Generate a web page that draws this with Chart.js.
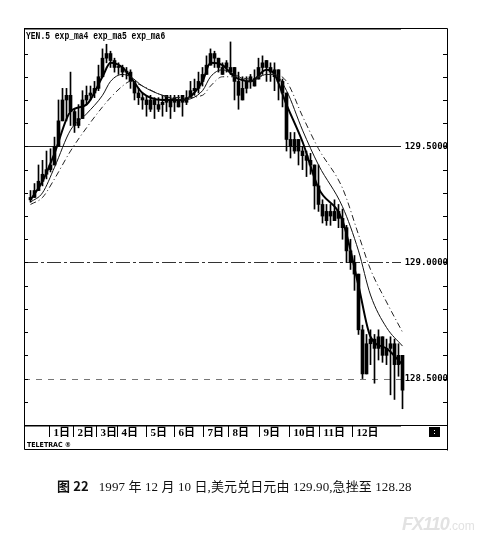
<!DOCTYPE html>
<html><head><meta charset="utf-8">
<script src="https://cdn.jsdelivr.net/npm/chart.js@4.4.0/dist/chart.umd.min.js"></script>
<style>
html,body{margin:0;padding:0;background:#fff;}
#wrap{position:relative;width:484px;height:544px;overflow:hidden;}
canvas{position:absolute;left:0;top:0;}
#cap{position:absolute;left:57px;top:478px;font-size:13px;line-height:16px;letter-spacing:0.1px;white-space:nowrap;color:#111;font-family:"Liberation Serif","Noto Sans CJK SC",serif;}
#cap b{font-family:"Noto Sans CJK SC",sans-serif;font-weight:bold;}
#wm{position:absolute;left:402px;top:514px;color:#e2e2e2;font-family:"Liberation Sans",sans-serif;white-space:nowrap;}
#wm b{font-size:18px;font-style:italic;letter-spacing:-1px;}
#wm span{font-size:12px;}
</style></head>
<body><div id="wrap"><canvas id="c" width="484" height="544"></canvas>
<div id="cap"><b>图 22</b>&nbsp;&nbsp;&nbsp;1997 年 12 月 10 日,美元兑日元由 129.90,急挫至 128.28</div>
<div id="wm"><b>FX110</b><span>.com</span></div>
</div>
<script>
// ---- data (USD/JPY 5-min bars, 10 Dec 1997) ----
const OPEN = [129.27,129.28,129.31,129.35,129.38,129.40,129.42,129.50,129.61,129.70,
129.72,129.65,129.59,129.62,129.70,129.72,129.73,129.75,129.80,129.88,
129.90,129.87,129.84,129.84,129.82,129.82,129.78,129.73,129.71,129.70,
129.66,129.70,129.66,129.68,129.72,129.67,129.71,129.67,129.72,129.69,
129.71,129.74,129.75,129.78,129.81,129.85,129.90,129.88,129.81,129.86,
129.82,129.84,129.78,129.70,129.75,129.80,129.76,129.79,129.84,129.87,
129.84,129.80,129.83,129.78,129.73,129.53,129.48,129.53,129.48,129.46,
129.44,129.42,129.33,129.25,129.18,129.22,129.18,129.22,129.19,129.15,
129.05,129.00,128.95,128.71,128.52,128.65,128.67,128.63,128.68,128.60,
128.63,128.65,128.56,128.60];
const HIGH = [129.31,129.34,129.42,129.44,129.48,129.49,129.54,129.70,129.75,129.75,
129.82,129.66,129.68,129.74,129.76,129.76,129.78,129.85,129.92,129.94,
129.91,129.88,129.86,129.85,129.84,129.83,129.78,129.75,129.73,129.72,
129.72,129.71,129.71,129.72,129.72,129.72,129.72,129.72,129.72,129.74,
129.78,129.79,129.82,129.84,129.89,129.92,129.91,129.88,129.86,129.87,
129.95,129.84,129.82,129.80,129.80,129.81,129.83,129.88,129.89,129.87,
129.86,129.86,129.83,129.79,129.73,129.56,129.56,129.53,129.50,129.48,
129.47,129.42,129.42,129.27,129.25,129.25,129.27,129.25,129.23,129.16,
129.10,129.03,128.95,128.73,128.69,128.71,128.69,128.71,128.68,128.67,
128.68,128.67,128.65,128.60];
const LOW = [129.26,129.28,129.31,129.33,129.36,129.39,129.42,129.50,129.61,129.61,
129.59,129.56,129.58,129.62,129.68,129.70,129.71,129.74,129.80,129.86,
129.84,129.82,129.81,129.80,129.79,129.75,129.70,129.68,129.66,129.63,
129.65,129.62,129.65,129.63,129.65,129.62,129.65,129.67,129.63,129.68,
129.71,129.72,129.73,129.76,129.81,129.85,129.84,129.82,129.81,129.82,
129.81,129.70,129.66,129.70,129.73,129.75,129.76,129.79,129.81,129.78,
129.78,129.74,129.70,129.67,129.48,129.45,129.47,129.42,129.40,129.37,
129.38,129.23,129.22,129.17,129.16,129.16,129.18,129.15,129.10,129.00,
128.97,128.88,128.69,128.50,128.52,128.56,128.48,128.58,128.57,128.56,
128.43,128.41,128.51,128.37];
const CLOSE = [129.28,129.31,129.35,129.38,129.40,129.42,129.50,129.61,129.70,129.72,
129.65,129.59,129.62,129.70,129.72,129.73,129.75,129.80,129.88,129.90,
129.87,129.84,129.84,129.82,129.82,129.78,129.73,129.71,129.70,129.68,
129.70,129.68,129.68,129.69,129.69,129.70,129.69,129.70,129.69,129.71,
129.74,129.75,129.78,129.81,129.85,129.90,129.88,129.84,129.84,129.84,
129.84,129.78,129.72,129.75,129.78,129.78,129.79,129.84,129.86,129.84,
129.82,129.83,129.78,129.73,129.53,129.50,129.53,129.48,129.46,129.44,
129.42,129.33,129.25,129.20,129.22,129.20,129.22,129.19,129.15,129.05,
129.00,128.95,128.71,128.52,128.65,128.67,128.63,128.68,128.60,128.63,
128.65,128.56,128.60,128.45];

// moving averages read at these bar indices
const MA_IDX = [0,3,6,10,14,18,20,23,25,28,33,38,43,45,48,51,55,59,61,64,68,72,78,82,85,89,93];
const MA4 = [129.27,129.35,129.47,129.65,129.68,129.80,129.86,129.84,129.80,129.73,129.70,129.70,129.78,129.86,129.85,129.80,129.78,129.83,129.81,129.68,129.52,129.32,129.18,128.90,128.68,128.63,128.56];
const MA5 = [129.26,129.30,129.41,129.57,129.64,129.72,129.78,129.81,129.80,129.76,129.72,129.70,129.74,129.80,129.83,129.81,129.78,129.81,129.81,129.74,129.57,129.42,129.24,129.05,128.86,128.72,128.64];
const MA6 = [129.25,129.28,129.36,129.48,129.58,129.67,129.71,129.76,129.78,129.76,129.72,129.71,129.72,129.76,129.80,129.80,129.79,129.81,129.81,129.78,129.63,129.49,129.32,129.12,128.97,128.83,128.70];

// hour boundaries (in bar index units) and their labels
const HOUR_POS = [4.75,10.75,16.5,21.75,29,36,43.25,49.5,57.25,64.75,72.25,80.5];
const HOUR_LABELS = ['1日','2日','3日','4日','5日','6日','7日','8日','9日','10日','11日','12日'];

const Y_MIN = 128.30, Y_MAX = 130.01;
const X_MIN = -1.625, X_MAX = 104.125;
const GRID_VALUES = [129.5, 129.0, 128.5];
const LEGEND_LABELS = ['YEN.5','exp_ma4','exp_ma5','exp_ma6'];

// styles
const GRID_DASH = [[], [14,3,3,3], [6,6]];
const GRID_COLOR = ['#222', '#333', '#777'];

const isMajor = v => Math.abs(v * 2 - Math.round(v * 2)) < 1e-6;
const idx = CLOSE.map((_, i) => i);
const wickData = idx.map(i => ({x: i, y: [LOW[i], HIGH[i]]}));
const bodyData = idx.map(i => ({x: i, y: [OPEN[i], CLOSE[i]]}));
const maData = arr => MA_IDX.map((x, k) => ({x, y: arr[k]}));

const decor = {
  id: 'decor',
  beforeDatasetsDraw(chart) {
    const {ctx, chartArea: a, scales: {y}} = chart;
    ctx.save();
    ctx.lineWidth = 1;
    GRID_VALUES.forEach((v, k) => {
      const py = Math.round(y.getPixelForValue(v)) + 0.5;
      ctx.setLineDash(GRID_DASH[k]);
      ctx.strokeStyle = GRID_COLOR[k];
      ctx.beginPath(); ctx.moveTo(a.left, py); ctx.lineTo(a.right - 46, py); ctx.stroke();
    });
    ctx.restore();
  },
  afterDraw(chart) {
    const {ctx, chartArea: a, scales: {x, y}} = chart;
    const L = a.left + 0.5, R = a.right + 0.5, T = a.top + 0.5, B = a.bottom + 0.5;
    const bottom = x.bottom + 0.5;
    ctx.save();
    ctx.strokeStyle = '#000'; ctx.lineWidth = 1; ctx.setLineDash([]);
    ctx.beginPath();
    ctx.moveTo(L, T); ctx.lineTo(L, bottom);
    ctx.moveTo(R, T); ctx.lineTo(R, bottom + 1);
    ctx.moveTo(L, T); ctx.lineTo(R, T);
    ctx.moveTo(L, B); ctx.lineTo(R, B);
    ctx.moveTo(L, bottom); ctx.lineTo(R, bottom);
    ctx.stroke();
    ctx.setLineDash([1, 1]);
    ctx.beginPath();
    ctx.moveTo(L, T + 1); ctx.lineTo(a.right - 46, T + 1);
    ctx.moveTo(L, B + 1); ctx.lineTo(a.right - 46, B + 1);
    ctx.stroke();
    ctx.setLineDash([]);
    // minor ticks on both sides
    ctx.beginPath();
    y.ticks.forEach(t => {
      const py = Math.round(y.getPixelForValue(t.value)) + 0.5;
      ctx.moveTo(a.left, py); ctx.lineTo(a.left + 4, py);
      ctx.moveTo(a.right - 4, py); ctx.lineTo(a.right, py);
    });
    ctx.stroke();
    // legend text (condensed bold)
    ctx.fillStyle = '#000';
    ctx.textBaseline = 'middle';
    ctx.save();
    ctx.translate(a.left + 2, a.top + 8);
    ctx.scale(0.8, 1);
    ctx.font = 'bold 10px "Liberation Mono"';
    ctx.fillText(LEGEND_LABELS.join(' '), 0, 0);
    ctx.restore();
    // TELETRAC mark
    ctx.font = 'bold 7px "DejaVu Sans Condensed"';
    ctx.fillText('TELETRAC ®', a.left + 3, x.bottom - 4);
    // cursor box
    ctx.fillRect(a.right - 18, a.bottom + 2, 11, 10);
    ctx.fillStyle = '#fff';
    ctx.fillRect(a.right - 13, a.bottom + 5, 1, 1);
    ctx.fillRect(a.right - 13, a.bottom + 8, 1, 1);
    ctx.restore();
  }
};

new Chart(document.getElementById('c'), {
  type: 'bar',
  data: {
    datasets: [
      {type: 'line', label: 'exp_ma6', data: maData(MA6), borderColor: '#222', borderWidth: 1, borderDash: [6, 3, 1, 3], pointRadius: 0, cubicInterpolationMode: 'monotone', order: 0},
      {type: 'line', label: 'exp_ma5', data: maData(MA5), borderColor: '#111', borderWidth: 1, pointRadius: 0, cubicInterpolationMode: 'monotone', order: 0},
      {type: 'line', label: 'exp_ma4', data: maData(MA4), borderColor: '#000', borderWidth: 2, pointRadius: 0, cubicInterpolationMode: 'monotone', order: 0},
      {label: 'wick', data: wickData, barThickness: 1, backgroundColor: '#000', grouped: false, order: 2},
      {label: 'body', data: bodyData, barThickness: 3, grouped: false, minBarLength: 1, borderSkipped: false, borderWidth: 0,
        backgroundColor: '#000', order: 1}
    ]
  },
  options: {
    responsive: false,
    devicePixelRatio: 1,
    animation: false,
    events: [],
    layout: {padding: {left: 24, right: 37, top: 28, bottom: 95}},
    plugins: {legend: {display: false}, tooltip: {enabled: false}, title: {display: false}},
    scales: {
      x: {
        type: 'linear', min: X_MIN, max: X_MAX, offset: false,
        afterBuildTicks: s => { s.ticks = HOUR_POS.map(v => ({value: v})); },
        afterFit: s => { s.height = 24; },
        ticks: {autoSkip: false, maxRotation: 0, minRotation: 0, align: 'start', labelOffset: 4, padding: -10, color: '#000',
          font: {family: '"Liberation Serif", "Noto Sans CJK SC"', size: 11, weight: 'bold'},
          callback: (v, i) => HOUR_LABELS[i]},
        grid: {offset: false, drawOnChartArea: false, drawTicks: true, tickLength: 12, color: '#000', tickColor: '#000'},
        border: {display: false}
      },
      y: {
        position: 'right', min: Y_MIN, max: Y_MAX,
        afterFit: s => { s.width = 0; },
        ticks: {stepSize: 0.1, mirror: true, padding: 1, color: '#000',
          font: {family: '"DejaVu Sans Mono"', size: 9, weight: 'bold'},
          callback: v => isMajor(v) ? v.toFixed(4) : ''},
        grid: {display: false, drawTicks: false},
        border: {display: false}
      }
    }
  },
  plugins: [decor]
});
</script>
</body></html>
